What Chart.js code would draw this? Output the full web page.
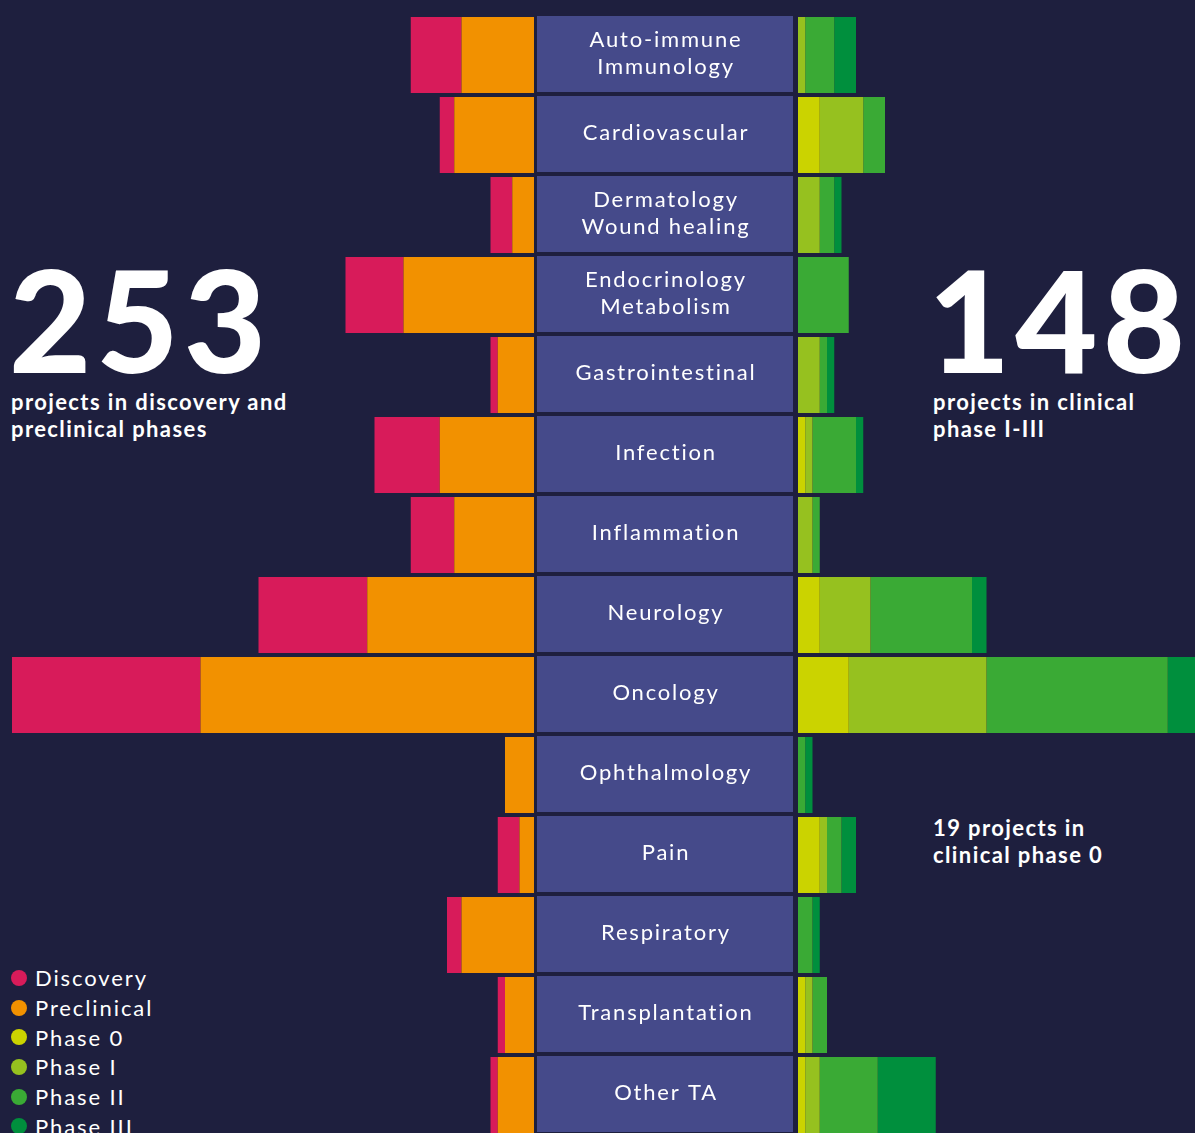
<!DOCTYPE html>
<html lang="en">
<head>
<meta charset="utf-8">
<script src="https://cdn.jsdelivr.net/npm/chart.js"></script>
<style>
  html, body { margin: 0; padding: 0; background: #1e1f3e; width: 1195px; height: 1133px; overflow: hidden; }
  body { position: relative; font-family: Lato, "Open Sans", sans-serif; color: #fff; }
  canvas { position: absolute; }
  #leftChart { left: 0; top: 15px; }
  #rightChart { left: 537px; top: 15px; }
  .big { position: absolute; font-weight: 900; font-size: 142px; line-height: 140px; letter-spacing: 5px; }
  .cap { position: absolute; font-weight: 700; font-size: 22px; line-height: 27px; letter-spacing: 1.4px; }
  #legend { position: absolute; left: 11px; top: 963px; }
  .item { height: 29.7px; display: flex; align-items: center; font-size: 22px; letter-spacing: 1.9px; }
  .dot { width: 16px; height: 16px; border-radius: 50%; margin-right: 8px; }
</style>
</head>
<body>
<div class="big" style="left:9px; top:248px;">253</div>
<div class="cap" style="left:11px; top:388px;">projects in discovery and<br>preclinical phases</div>
<div class="big" style="left:928px; top:248px;">148</div>
<div class="cap" style="left:933px; top:388px;">projects in clinical<br>phase I-III</div>
<div class="cap" style="left:933px; top:814px;">19 projects in<br>clinical phase 0</div>
<div id="legend"></div>
<canvas id="leftChart" width="534" height="1120"></canvas>
<canvas id="rightChart" width="658" height="1120"></canvas>
<script>
// therapeutic areas (one row each)
const categories = [
  ['Auto-immune', 'Immunology'],
  ['Cardiovascular'],
  ['Dermatology', 'Wound healing'],
  ['Endocrinology', 'Metabolism'],
  ['Gastrointestinal'],
  ['Infection'],
  ['Inflammation'],
  ['Neurology'],
  ['Oncology'],
  ['Ophthalmology'],
  ['Pain'],
  ['Respiratory'],
  ['Transplantation'],
  ['Other TA']
];

// number of projects per phase
const discovery   = [7, 2, 3, 8, 1, 9, 6, 15, 26, 0, 3, 2, 1, 1];
const preclinical = [10, 11, 3, 18, 5, 13, 11, 23, 46, 4, 2, 10, 4, 5];
const phase0      = [0, 3, 0, 0, 0, 1, 0, 3, 7, 0, 3, 0, 1, 1];
const phase1      = [1, 6, 3, 0, 3, 1, 2, 7, 19, 0, 1, 0, 1, 2];
const phase2      = [4, 3, 2, 7, 1, 6, 1, 14, 25, 1, 2, 2, 2, 8];
const phase3      = [3, 0, 1, 0, 1, 1, 0, 2, 4, 1, 2, 1, 0, 8];

const seriesNames  = ['Discovery', 'Preclinical', 'Phase 0', 'Phase I', 'Phase II', 'Phase III'];
const seriesColors = ['#d81b5a', '#f29100', '#cbd300', '#96c11f', '#3aaa35', '#008f3d'];

const PX_PER_PROJECT = 7.25;
const BOX_COLOR = '#454a8a';

// legend
const legend = document.getElementById('legend');
seriesNames.forEach((name, i) => {
  const row = document.createElement('div');
  row.className = 'item';
  row.innerHTML = '<span class="dot" style="background:' + seriesColors[i] + '"></span>' + name;
  legend.appendChild(row);
});

const labels = categories.map(l => l.join(' '));

function ds(label, data, color) {
  return {
    label: label,
    data: data,
    backgroundColor: color,
    borderWidth: 0,
    barPercentage: 0.95,
    categoryPercentage: 1
  };
}

// boxes with the area names, drawn in the y-axis space of the right chart
const boxPlugin = {
  id: 'boxes',
  beforeDatasetsDraw(chart) {
    const ctx = chart.ctx;
    const y = chart.scales.y;
    const w = 256;
    ctx.save();
    categories.forEach((lines, i) => {
      const cy = y.getPixelForTick(i);
      ctx.fillStyle = BOX_COLOR;
      ctx.fillRect(y.left, cy - 39, w, 76);
      ctx.fillStyle = '#ffffff';
      ctx.font = '400 22px Lato';
      ctx.letterSpacing = '1.8px';
      ctx.textAlign = 'center';
      ctx.textBaseline = 'middle';
      lines.forEach((t, j) => {
        ctx.fillText(t, y.left + w / 2 + 1, cy - 2 + (j - (lines.length - 1) / 2) * 27);
      });
    });
    ctx.restore();
  }
};

new Chart(document.getElementById('leftChart'), {
  type: 'bar',
  data: {
    labels: labels,
    datasets: [
      ds('Preclinical', preclinical, seriesColors[1]),
      ds('Discovery', discovery, seriesColors[0])
    ]
  },
  options: {
    indexAxis: 'y',
    responsive: false,
    animation: false,
    devicePixelRatio: 1,
    layout: { padding: 0 },
    plugins: { legend: { display: false }, tooltip: { enabled: false } },
    scales: {
      x: { stacked: true, reverse: true, min: 0, max: 534 / PX_PER_PROJECT, display: false },
      y: { stacked: true, display: false }
    }
  }
});

new Chart(document.getElementById('rightChart'), {
  type: 'bar',
  data: {
    labels: labels,
    datasets: [
      ds('Phase 0', phase0, seriesColors[2]),
      ds('Phase I', phase1, seriesColors[3]),
      ds('Phase II', phase2, seriesColors[4]),
      ds('Phase III', phase3, seriesColors[5])
    ]
  },
  options: {
    indexAxis: 'y',
    responsive: false,
    animation: false,
    devicePixelRatio: 1,
    layout: { padding: 0 },
    plugins: { legend: { display: false }, tooltip: { enabled: false } },
    scales: {
      x: { stacked: true, min: 0, max: 397 / PX_PER_PROJECT, display: false },
      y: {
        stacked: true,
        grid: { display: false },
        border: { display: false },
        ticks: { display: false },
        afterFit(scale) { scale.width = 261; }
      }
    }
  },
  plugins: [boxPlugin]
});
</script>
</body>
</html>
